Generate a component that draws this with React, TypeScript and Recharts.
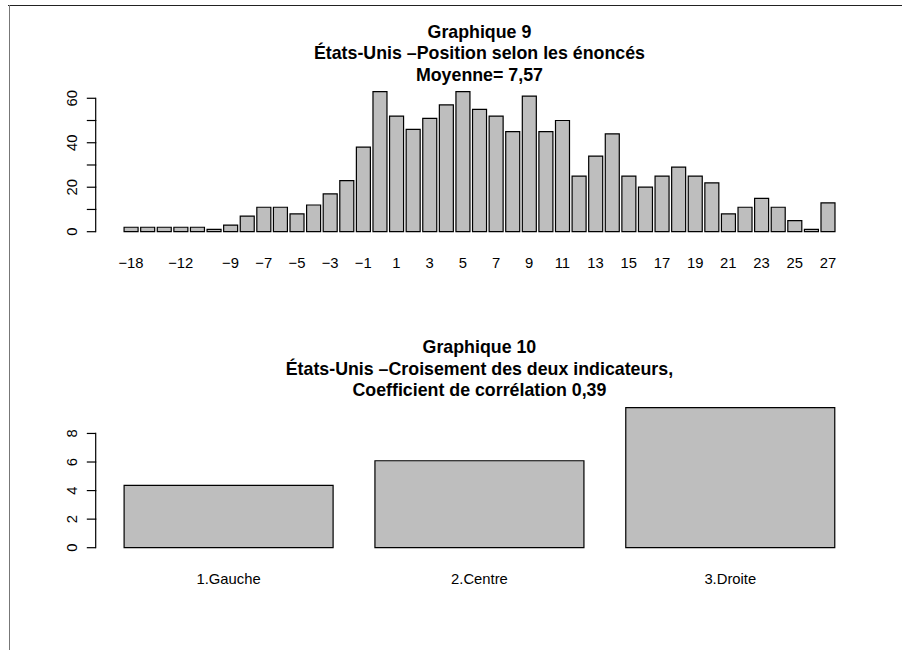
import React from 'react';
import { BarChart, Bar, XAxis, YAxis } from 'recharts';

// ---- Data: Graphique 9 ----
const positions: number[] = [
  -18, -16, -14, -12, -11, -10, -9, -8, -7, -6, -5, -4, -3, -2, -1, 0, 1, 2, 3, 4, 5, 6,
  7, 8, 9, 10, 11, 12, 13, 14, 15, 16, 17, 18, 19, 20, 21, 22, 23, 24, 25, 26, 27,
];
const counts: number[] = [
  2, 2, 2, 2, 2, 1, 3, 7, 11, 11, 8, 12, 17, 23, 38, 63, 52, 46, 51, 57, 63, 55,
  52, 45, 61, 45, 50, 25, 34, 44, 25, 20, 25, 29, 25, 22, 8, 11, 15, 11, 5, 1, 13,
];
const shownPositionLabels: number[] = [
  -18, -12, -9, -7, -5, -3, -1, 1, 3, 5, 7, 9, 11, 13, 15, 17, 19, 21, 23, 25, 27,
];
const yTicks9: number[] = [0, 10, 20, 30, 40, 50, 60];
const yLabels9: number[] = [0, 20, 40, 60];
const title9: string[] = ['Graphique 9', 'États-Unis –Position selon les énoncés', 'Moyenne= 7,57'];

// ---- Data: Graphique 10 ----
const groups: string[] = ['1.Gauche', '2.Centre', '3.Droite'];
const groupValues: number[] = [4.37, 6.09, 9.81];
const yTicks10: number[] = [0, 2, 4, 6, 8];
const yLabels10: number[] = [0, 2, 4, 6, 8];
const title10: string[] = [
  'Graphique 10',
  'États-Unis –Croisement des deux indicateurs,',
  'Coefficient de corrélation 0,39',
];

const data9 = positions.map((p, i) => ({ cat: p, value: counts[i] }));
const data10 = groups.map((g, i) => ({ cat: g, value: groupValues[i] }));

// ---- Layout ----
const W = 902;
const FIG_H = 315.5;
const CH = 300;
const M_TOP = 86;
const PLOT_BOTTOM = 237.3;
const XAX_H = 40;
const M_BOTTOM = CH - PLOT_BOTTOM - XAX_H;
const Y_W = 95.7;
const M_RIGHT = W - 863.2;
const PLOT_H = PLOT_BOTTOM - M_TOP;
const FONT = '"Liberation Sans", Arial, Helvetica, sans-serif';
const AX_FS = 14.8;
const TITLE_FS = 17.8;
const TITLE_LH = 21.4;

const fmt = (v: number) => (v < 0 ? '−' + Math.abs(v) : String(v));

function rDomain(vals: number[]): [number, number] {
  const mx = Math.max(...vals);
  const pad = mx * 0.04;
  return [-pad, mx + pad];
}

function makeYTick(domain: [number, number], ticks: number[], labels: number[]) {
  const stepVal = ticks[1] - ticks[0];
  const stepPx = (PLOT_H * stepVal) / (domain[1] - domain[0]);
  return (props: any) => {
    const { x, y, payload, index } = props;
    const v = payload.value as number;
    return (
      <g>
        <line x1={x - 8.9} x2={x} y1={y} y2={y} stroke="#000" strokeWidth={1.2} />
        {index > 0 && <line x1={x} x2={x} y1={y - 0.6} y2={y + stepPx + 0.6} stroke="#000" strokeWidth={1.2} />}
        {labels.includes(v) && (
          <text
            x={x - 18.5}
            y={y}
            transform={`rotate(-90, ${x - 18.5}, ${y})`}
            textAnchor="middle"
            fontSize={AX_FS}
            fontFamily={FONT}
            fill="#000"
          >
            {fmt(v)}
          </text>
        )}
      </g>
    );
  };
}

function Titles({ lines, top }: { lines: string[]; top: number }) {
  return (
    <div
      style={{
        position: 'absolute',
        left: Y_W,
        width: W - M_RIGHT - Y_W,
        top: top + M_TOP - 1.5 * TITLE_LH - 32,
        textAlign: 'center',
        fontFamily: FONT,
        fontWeight: 'bold',
        fontSize: TITLE_FS,
        lineHeight: `${TITLE_LH}px`,
        color: '#000',
        whiteSpace: 'nowrap',
      }}
    >
      {lines.map((l, i) => (
        <div key={i}>{l}</div>
      ))}
    </div>
  );
}

export default function App() {
  const dom9 = rDomain(counts);
  const dom10 = rDomain(groupValues);
  return (
    <div style={{ position: 'absolute', left: 0, top: 0, width: W, height: 650, background: '#fff', overflow: 'hidden' }}>
      <div style={{ position: 'absolute', left: 8, top: 4.5, width: W - 8, height: 1.5, background: '#222' }} />
      <div style={{ position: 'absolute', left: 8.5, top: 4.5, width: 1.5, height: 650, background: '#777' }} />

      <Titles lines={title9} top={0} />
      <div style={{ position: 'absolute', left: 0, top: 0 }}>
        <BarChart width={W} height={CH} data={data9} margin={{ top: M_TOP, right: M_RIGHT, bottom: M_BOTTOM, left: 0 }} barCategoryGap="8.333%">
          <XAxis
            dataKey="cat"
            type="category"
            interval={0}
            tickLine={false}
            axisLine={false}
            tickSize={0}
            tickMargin={20}
            height={XAX_H}
            padding={{ left: 27, right: 27 }}
            tick={{ fill: '#000', fontSize: AX_FS, fontFamily: FONT }}
            tickFormatter={(v: number) => (shownPositionLabels.includes(v) ? fmt(v) : '')}
          />
          <YAxis
            type="number"
            width={Y_W}
            domain={dom9}
            ticks={yTicks9}
            interval={0}
            axisLine={false}
            tickLine={false}
            tickSize={0}
            tickMargin={0}
            tick={makeYTick(dom9, yTicks9, yLabels9)}
          />
          <Bar dataKey="value" fill="#bebebe" stroke="#000" strokeWidth={1.2} isAnimationActive={false} />
        </BarChart>
      </div>

      <Titles lines={title10} top={FIG_H} />
      <div style={{ position: 'absolute', left: 0, top: FIG_H }}>
        <BarChart width={W} height={CH} data={data10} margin={{ top: M_TOP, right: M_RIGHT, bottom: M_BOTTOM, left: 0 }} barCategoryGap="8.333%">
          <XAxis
            dataKey="cat"
            type="category"
            interval={0}
            tickLine={false}
            axisLine={false}
            tickSize={0}
            tickMargin={20}
            height={XAX_H}
            padding={{ left: 7.5, right: 7.5 }}
            tick={{ fill: '#000', fontSize: AX_FS, fontFamily: FONT }}
          />
          <YAxis
            type="number"
            width={Y_W}
            domain={dom10}
            ticks={yTicks10}
            interval={0}
            axisLine={false}
            tickLine={false}
            tickSize={0}
            tickMargin={0}
            tick={makeYTick(dom10, yTicks10, yLabels10)}
          />
          <Bar dataKey="value" fill="#bebebe" stroke="#000" strokeWidth={1.2} isAnimationActive={false} />
        </BarChart>
      </div>
    </div>
  );
}
